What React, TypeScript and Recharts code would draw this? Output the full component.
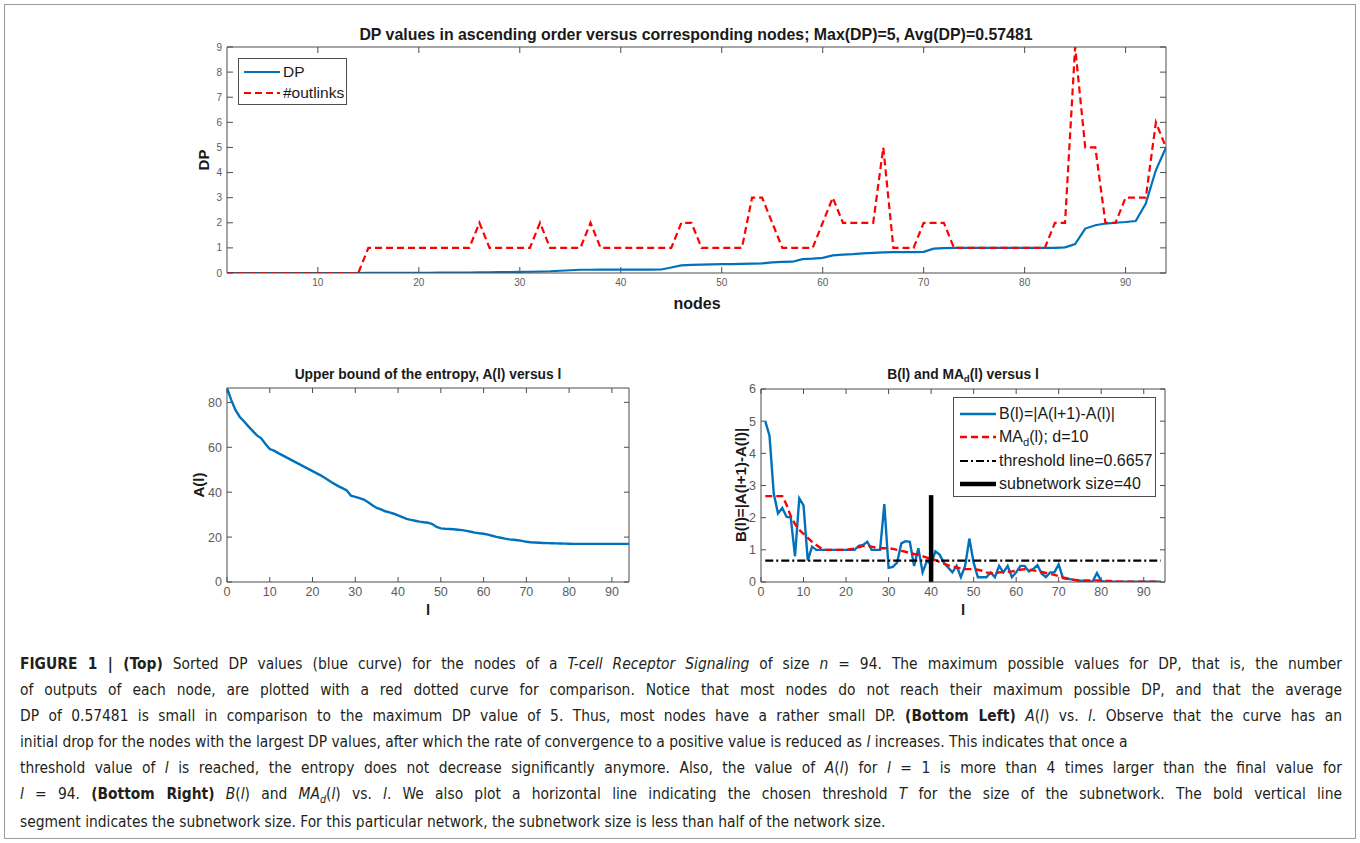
import React from 'react';
import { LineChart, Line, XAxis, YAxis, ReferenceLine } from 'recharts';

// ---------- Top panel: sorted DP values and outlink counts per node ----------
const NODES: number[] = Array.from({ length: 94 }, (_, i) => i + 1);

const DP_VALUES: number[] = [
  0, 0, 0, 0, 0, 0, 0, 0, 0, 0, 0, 0, 0, 0,
  0.003, 0.004, 0.005, 0.006, 0.007, 0.008, 0.01, 0.012, 0.014, 0.016,
  0.02, 0.024, 0.028, 0.032, 0.038, 0.044, 0.05, 0.06, 0.07, 0.09,
  0.11, 0.13, 0.13, 0.135, 0.135, 0.135, 0.135, 0.135, 0.135, 0.14,
  0.22, 0.3, 0.32, 0.33, 0.34, 0.35, 0.35, 0.36, 0.37, 0.38,
  0.42, 0.44, 0.45, 0.55, 0.57, 0.6, 0.7, 0.73, 0.75, 0.78,
  0.8, 0.82, 0.83, 0.83, 0.83, 0.84, 0.97, 0.99,
  1.0, 1.0, 1.0, 1.0, 1.0, 1.0, 1.0, 1.0, 1.0, 1.0, 1.0,
  1.02, 1.15, 1.77, 1.9, 1.97, 2.0, 2.03, 2.07, 2.77, 4.1, 5.0,
];

const OUTLINKS: number[] = [
  0, 0, 0, 0, 0, 0, 0, 0, 0, 0, 0, 0, 0, 0,
  1, 1, 1, 1, 1, 1, 1, 1, 1, 1, 1,
  2, 1, 1, 1, 1, 1, 2, 1, 1, 1, 1, 2,
  1, 1, 1, 1, 1, 1, 1, 1,
  2, 2, 1, 1, 1, 1, 1, 3, 3, 2,
  1, 1, 1, 1, 2, 3, 2, 2, 2, 2, 5,
  1, 1, 1, 2, 2, 2,
  1, 1, 1, 1, 1, 1, 1, 1, 1, 1,
  2, 2, 9, 5, 5, 2, 2, 3, 3, 3, 6, 5,
];

const TOP_X_TICKS = [10, 20, 30, 40, 50, 60, 70, 80, 90];
const TOP_Y_TICKS = [0, 1, 2, 3, 4, 5, 6, 7, 8, 9];

// ---------- Bottom left: upper bound of the entropy A(l), l = 0..94 ----------
const L_FULL: number[] = Array.from({ length: 95 }, (_, i) => i);

const A_VALUES: number[] = [
  86.4, 81.0, 76.5, 73.5, 71.5, 69.3, 67.3, 65.3, 64.0, 61.5,
  59.2, 58.5, 57.4, 56.4, 55.4, 54.4, 53.4, 52.4, 51.4, 50.4,
  49.4, 48.4, 47.4, 46.2, 45.0, 43.8, 42.7, 41.8, 40.8, 38.4,
  37.9, 37.4, 36.7, 35.5, 34.2, 33.0, 32.3, 31.5, 31.0, 30.4,
  29.7, 28.9, 28.1, 27.7, 27.3, 26.9, 26.6, 26.4, 25.8, 24.5,
  23.9, 23.7, 23.6, 23.5, 23.3, 23.1, 22.8, 22.4, 22.0, 21.7,
  21.5, 21.1, 20.6, 20.1, 19.7, 19.3, 19.0, 18.8, 18.6, 18.3,
  17.9, 17.7, 17.6, 17.5, 17.4, 17.3, 17.25, 17.2, 17.15, 17.1,
  17.05, 17.0, 17.0, 17.0, 17.0, 17.0, 17.0, 17.0, 17.0, 17.0,
  17.0, 17.0, 17.0, 17.0, 17.0,
];

const BL_X_TICKS = [0, 10, 20, 30, 40, 50, 60, 70, 80, 90];
const BL_Y_TICKS = [0, 20, 40, 60, 80];

// ---------- Bottom right: B(l) and its moving average, l = 1..94 ----------
const L_VALUES: number[] = Array.from({ length: 94 }, (_, i) => i + 1);

const B_VALUES: number[] = [
  5.0, 4.55, 2.75, 2.13, 2.3, 2.03, 2.0, 0.8, 2.6, 2.38,
  0.67, 1.1, 1.0, 1.0, 1.0, 1.0, 1.0, 1.0, 1.0, 1.0,
  1.0, 1.0, 1.12, 1.15, 1.25, 1.0, 1.0, 1.0, 2.42, 0.44,
  0.47, 0.6, 1.2, 1.27, 1.25, 0.5, 1.05, 0.3, 0.65, 0.55,
  0.95, 0.85, 0.6, 0.45, 0.3, 0.5, 0.15, 0.5, 1.35, 0.6,
  0.15, 0.15, 0.15, 0.3, 0.15, 0.5, 0.3, 0.5, 0.15, 0.3,
  0.5, 0.5, 0.33, 0.4, 0.52, 0.26, 0.15, 0.3, 0.3, 0.55,
  0.12, 0.1, 0.08, 0.05, 0.04, 0.03, 0.02, 0.02, 0.28, 0.03,
  0.01, 0.01, 0.01, 0.01, 0.01, 0.01, 0.01, 0.01, 0.01, 0.01,
  0.01, 0.01, 0.01, 0.01,
];

const MA_VALUES: number[] = [
  2.67, 2.67, 2.67, 2.67, 2.67, 2.4, 2.05, 1.8, 1.62, 1.5,
  1.37, 1.25, 1.15, 1.06, 1.0, 1.0, 1.0, 1.0, 1.0, 1.0,
  1.02, 1.04, 1.08, 1.12, 1.13, 1.1, 1.07, 1.05, 1.05, 1.05,
  1.03, 1.0, 0.97, 0.94, 0.9, 0.87, 0.84, 0.8, 0.76, 0.72,
  0.68, 0.62, 0.57, 0.52, 0.48, 0.45, 0.42, 0.4, 0.4, 0.4,
  0.38, 0.35, 0.3, 0.27, 0.27, 0.3, 0.31, 0.32, 0.33, 0.35,
  0.38, 0.4, 0.39, 0.36, 0.34, 0.31, 0.28, 0.25, 0.22, 0.18,
  0.14, 0.11, 0.08, 0.06, 0.05, 0.05, 0.05, 0.05, 0.05, 0.04,
  0.03, 0.03, 0.02, 0.01, 0.01, 0.01, 0.01, 0.01, 0.01, 0.01,
  0.01, 0.01, 0.01, 0.01,
];

const THRESHOLD = 0.6657;
const SUBNETWORK_SIZE = 40;
const SUBNETWORK_BAR_TOP = 2.7;

const BR_X_TICKS = [0, 10, 20, 30, 40, 50, 60, 70, 80, 90];
const BR_Y_TICKS = [0, 1, 2, 3, 4, 5, 6];

// ---------- Styling ----------
const BLUE = '#0072BD';
const RED = '#FF0000';
const AXIS = '#4d4d4d';
const TICK_TEXT = '#5c5c5c';
const FONT = '"Liberation Sans", Arial, Helvetica, sans-serif';
const CAPTION_FONT = '"Liberation Sans Narrow", "DejaVu Sans Condensed", "Liberation Sans", sans-serif';

const topData = NODES.map((n, i) => ({ x: n, dp: DP_VALUES[i], out: OUTLINKS[i] }));
const blData = L_FULL.map((l, i) => ({ x: l, a: A_VALUES[i] }));
const brData = L_VALUES.map((l, i) => ({ x: l, b: B_VALUES[i], ma: MA_VALUES[i] }));

const YW = 50; // left axis band
const XH = 30; // bottom axis band
const PAD = 10; // room above / right of the plot box

type Box = { left: number; top: number; right: number; bottom: number };

const TOP_BOX: Box = { left: 227, top: 47, right: 1166, bottom: 273 };
const BL_BOX: Box = { left: 227, top: 388, right: 629, bottom: 582 };
const BR_BOX: Box = { left: 761, top: 389, right: 1165, bottom: 582 };

function frameStyle(b: Box): React.CSSProperties {
  return {
    position: 'absolute',
    left: b.left - YW,
    top: b.top - PAD,
    width: b.right - b.left + YW + PAD,
    height: b.bottom - b.top + PAD + XH,
  };
}

function chartSize(b: Box) {
  return { width: b.right - b.left + YW + PAD, height: b.bottom - b.top + PAD + XH };
}

const MARGIN = { top: PAD, right: PAD, bottom: 0, left: 0 };

// Inward tick marks on all four sides of the axes box, placed by the chart scales.
function boxDecor(xTicks: number[], yTicks: number[], xMax: number, yMax: number, len: number) {
  const vTick = (p: any) => {
    const top = Math.min(p.y1, p.y2);
    const bottom = Math.max(p.y1, p.y2);
    return (
      <g>
        <line x1={p.x1} x2={p.x1} y1={bottom} y2={bottom - len} stroke={AXIS} strokeWidth={1} />
        <line x1={p.x1} x2={p.x1} y1={top} y2={top + len} stroke={AXIS} strokeWidth={1} />
      </g>
    );
  };
  const hTick = (p: any) => {
    const left = Math.min(p.x1, p.x2);
    const right = Math.max(p.x1, p.x2);
    return (
      <g>
        <line x1={left} x2={left + len} y1={p.y1} y2={p.y1} stroke={AXIS} strokeWidth={1} />
        <line x1={right} x2={right - len} y1={p.y1} y2={p.y1} stroke={AXIS} strokeWidth={1} />
      </g>
    );
  };
  return [
    <ReferenceLine key="edge-top" y={yMax} stroke={AXIS} strokeWidth={1} />,
    <ReferenceLine key="edge-right" x={xMax} stroke={AXIS} strokeWidth={1} />,
    ...xTicks.map((t) => <ReferenceLine key={`xt-${t}`} x={t} shape={vTick} />),
    ...yTicks.map((t) => <ReferenceLine key={`yt-${t}`} y={t} shape={hTick} />),
  ];
}

function Txt(props: {
  x: number; y: number; size: number; bold?: boolean; rotate?: boolean; children: React.ReactNode; color?: string;
}) {
  const { x, y, size, bold, rotate, children, color } = props;
  return (
    <div
      style={{
        position: 'absolute',
        left: x,
        top: y,
        transform: `translate(-50%, -50%)${rotate ? ' rotate(-90deg)' : ''}`,
        fontFamily: FONT,
        fontSize: size,
        fontWeight: bold ? 'bold' : 'normal',
        color: color || '#1a1a1a',
        whiteSpace: 'nowrap',
        lineHeight: 1,
      }}
    >
      {children}
    </div>
  );
}

function LegendSample(props: { dash?: string; width: number; color: string }) {
  return (
    <svg width={38} height={10} style={{ display: 'block', flex: 'none' }}>
      <line x1={1} y1={5} x2={37} y2={5} stroke={props.color} strokeWidth={props.width} strokeDasharray={props.dash} />
    </svg>
  );
}

function LegendRow(props: { dash?: string; width: number; color: string; size: number; children: React.ReactNode; height: number }) {
  return (
    <div style={{ display: 'flex', alignItems: 'center', height: props.height }}>
      <LegendSample dash={props.dash} width={props.width} color={props.color} />
      <span style={{ marginLeft: 2, fontFamily: FONT, fontSize: props.size, color: '#1a1a1a', whiteSpace: 'nowrap' }}>
        {props.children}
      </span>
    </div>
  );
}

const Sub = (p: { children: React.ReactNode }) => (
  <span style={{ fontSize: '0.7em', position: 'relative', top: '0.35em' }}>{p.children}</span>
);

const B = (p: { children: React.ReactNode }) => <b>{p.children}</b>;
const I = (p: { children: React.ReactNode }) => <i>{p.children}</i>;

// caption lines; `full` lines are set justified to the text block width
const CAPTION_LINES: { full: boolean; content: React.ReactNode }[] = [
  {
    full: true,
    content: (
      <>
        <B>FIGURE 1 | (Top)</B> Sorted DP values (blue curve) for the nodes of a <I>T-cell Receptor Signaling</I> of
        size <I>n</I> = 94. The maximum possible values for DP, that is, the number
      </>
    ),
  },
  {
    full: true,
    content: (
      <>
        of outputs of each node, are plotted with a red dotted curve for comparison. Notice that most nodes do not
        reach their maximum possible DP, and that the average
      </>
    ),
  },
  {
    full: true,
    content: (
      <>
        DP of 0.57481 is small in comparison to the maximum DP value of 5. Thus, most nodes have a rather small DP.{' '}
        <B>(Bottom Left)</B> <I>A</I>(<I>l</I>) vs. <I>l</I>. Observe that the curve has an
      </>
    ),
  },
  {
    full: false,
    content: (
      <>
        initial drop for the nodes with the largest DP values, after which the rate of convergence to a positive value
        is reduced as <I>l</I> increases. This indicates that once a
      </>
    ),
  },
  {
    full: true,
    content: (
      <>
        threshold value of <I>l</I> is reached, the entropy does not decrease significantly anymore. Also, the value of{' '}
        <I>A</I>(<I>l</I>) for <I>l</I> = 1 is more than 4 times larger than the final value for
      </>
    ),
  },
  {
    full: true,
    content: (
      <>
        <I>l</I> = 94. <B>(Bottom Right)</B> <I>B</I>(<I>l</I>) and <I>MA</I>
        <Sub>
          <I>d</I>
        </Sub>
        (<I>l</I>) vs. <I>l</I>. We also plot a horizontal line indicating the chosen threshold <I>T</I> for the size of
        the subnetwork. The bold vertical line
      </>
    ),
  },
  {
    full: false,
    content: (
      <>
        segment indicates the subnetwork size. For this particular network, the subnetwork size is less than half of
        the network size.
      </>
    ),
  },
];

export default function App() {
  const tickTop = { fill: TICK_TEXT, fontSize: 10, fontFamily: FONT };
  const tickBottom = { fill: TICK_TEXT, fontSize: 12.5, fontFamily: FONT };

  return (
    <div
      style={{
        position: 'absolute',
        left: 0,
        top: 0,
        width: 1360,
        height: 843,
        background: '#ffffff',
        overflow: 'hidden',
      }}
    >
      {/* outer figure frame */}
      <div
        style={{
          position: 'absolute',
          left: 4,
          top: 4,
          width: 1350,
          height: 833,
          border: '1px solid #9a9a9a',
        }}
      />

      {/* ---------------- Top panel ---------------- */}
      <Txt x={696} y={35} size={15.9} bold>
        DP values in ascending order versus corresponding nodes; Max(DP)=5, Avg(DP)=0.57481
      </Txt>
      <div style={frameStyle(TOP_BOX)}>
        <LineChart {...chartSize(TOP_BOX)} data={topData} margin={MARGIN}>
          <XAxis
            dataKey="x"
            type="number"
            domain={[1, 94]}
            ticks={TOP_X_TICKS}
            interval={0}
            allowDataOverflow
            height={XH}
            stroke={AXIS}
            tickLine={false}
            tickSize={0}
            tickMargin={6}
            tick={tickTop}
          />
          <YAxis
            type="number"
            domain={[0, 9]}
            ticks={TOP_Y_TICKS}
            interval={0}
            allowDataOverflow
            width={YW}
            stroke={AXIS}
            tickLine={false}
            tickSize={0}
            tickMargin={5}
            tick={tickTop}
          />
          {boxDecor(TOP_X_TICKS, TOP_Y_TICKS, 94, 9, 6)}
          <Line type="linear" dataKey="dp" stroke={BLUE} strokeWidth={2.2} dot={false} isAnimationActive={false} />
          <Line
            type="linear"
            dataKey="out"
            stroke={RED}
            strokeWidth={2.2}
            strokeDasharray="7 4"
            dot={false}
            isAnimationActive={false}
          />
        </LineChart>
      </div>
      <Txt x={203} y={160} size={15} bold rotate>
        DP
      </Txt>
      <Txt x={697} y={304} size={16} bold>
        nodes
      </Txt>
      <div
        style={{
          position: 'absolute',
          left: 238,
          top: 58,
          width: 109,
          height: 47,
          border: '1px solid #4d4d4d',
          background: '#fff',
          boxSizing: 'border-box',
          padding: '2px 0 0 4px',
        }}
      >
        <LegendRow color={BLUE} width={2.2} size={15.5} height={21}>
          DP
        </LegendRow>
        <LegendRow color={RED} width={2.2} dash="7 4" size={15.5} height={21}>
          #outlinks
        </LegendRow>
      </div>

      {/* ---------------- Bottom left panel ---------------- */}
      <Txt x={428} y={375} size={13.8} bold>
        Upper bound of the entropy, A(l) versus l
      </Txt>
      <div style={frameStyle(BL_BOX)}>
        <LineChart {...chartSize(BL_BOX)} data={blData} margin={MARGIN}>
          <XAxis
            dataKey="x"
            type="number"
            domain={[0, 94]}
            ticks={BL_X_TICKS}
            interval={0}
            allowDataOverflow
            height={XH}
            stroke={AXIS}
            tickLine={false}
            tickSize={0}
            tickMargin={5}
            tick={tickBottom}
          />
          <YAxis
            type="number"
            domain={[0, 86.4]}
            ticks={BL_Y_TICKS}
            interval={0}
            allowDataOverflow
            width={YW}
            stroke={AXIS}
            tickLine={false}
            tickSize={0}
            tickMargin={5}
            tick={tickBottom}
          />
          {boxDecor(BL_X_TICKS, BL_Y_TICKS, 94, 86.4, 5)}
          <Line type="linear" dataKey="a" stroke={BLUE} strokeWidth={2.4} dot={false} isAnimationActive={false} />
        </LineChart>
      </div>
      <Txt x={198} y={485} size={15} bold rotate>
        A(l)
      </Txt>
      <Txt x={428} y={609} size={15} bold>
        l
      </Txt>

      {/* ---------------- Bottom right panel ---------------- */}
      <Txt x={963} y={375} size={13.8} bold>
        B(l) and MA<Sub>d</Sub>(l) versus l
      </Txt>
      <div style={frameStyle(BR_BOX)}>
        <LineChart {...chartSize(BR_BOX)} data={brData} margin={MARGIN}>
          <XAxis
            dataKey="x"
            type="number"
            domain={[0, 95]}
            ticks={BR_X_TICKS}
            interval={0}
            allowDataOverflow
            height={XH}
            stroke={AXIS}
            tickLine={false}
            tickSize={0}
            tickMargin={5}
            tick={tickBottom}
          />
          <YAxis
            type="number"
            domain={[0, 6]}
            ticks={BR_Y_TICKS}
            interval={0}
            allowDataOverflow
            width={YW}
            stroke={AXIS}
            tickLine={false}
            tickSize={0}
            tickMargin={5}
            tick={tickBottom}
          />
          {boxDecor(BR_X_TICKS, BR_Y_TICKS, 95, 6, 5)}
          <Line type="linear" dataKey="b" stroke={BLUE} strokeWidth={2.4} dot={false} isAnimationActive={false} />
          <Line
            type="linear"
            dataKey="ma"
            stroke={RED}
            strokeWidth={2.4}
            strokeDasharray="7 4"
            dot={false}
            isAnimationActive={false}
          />
          <ReferenceLine
            segment={[
              { x: 1, y: THRESHOLD },
              { x: 94, y: THRESHOLD },
            ]}
            stroke="#000"
            strokeWidth={2.2}
            strokeDasharray="8 3 2 3"
            ifOverflow="visible"
          />
          <ReferenceLine
            segment={[
              { x: SUBNETWORK_SIZE, y: 0 },
              { x: SUBNETWORK_SIZE, y: SUBNETWORK_BAR_TOP },
            ]}
            stroke="#000"
            strokeWidth={4.5}
            ifOverflow="visible"
          />
        </LineChart>
      </div>
      <Txt x={740} y={485} size={15} bold rotate>
        B(l)=|A(l+1)-A(l)|
      </Txt>
      <Txt x={963} y={609} size={15} bold>
        l
      </Txt>
      <div
        style={{
          position: 'absolute',
          left: 953,
          top: 397,
          width: 203,
          height: 100,
          border: '1px solid #4d4d4d',
          background: '#fff',
          boxSizing: 'border-box',
          padding: '4px 0 0 5px',
        }}
      >
        <LegendRow color={BLUE} width={2.4} size={16} height={23.5}>
          B(l)=|A(l+1)-A(l)|
        </LegendRow>
        <LegendRow color={RED} width={2.4} dash="7 4" size={16} height={23.5}>
          MA<Sub>d</Sub>(l); d=10
        </LegendRow>
        <LegendRow color="#000" width={2.2} dash="8 3 2 3" size={16} height={23.5}>
          threshold line=0.6657
        </LegendRow>
        <LegendRow color="#000" width={4.5} size={16} height={23.5}>
          subnetwork size=40
        </LegendRow>
      </div>

      {/* ---------------- Caption ---------------- */}
      <div
        style={{
          position: 'absolute',
          left: 20,
          top: 651,
          width: 1322,
          fontFamily: CAPTION_FONT,
          fontSize: 15.4,
          lineHeight: '26px',
          color: '#231f20',
        }}
      >
        {CAPTION_LINES.map((line, i) => (
          <div
            key={i}
            style={{
              whiteSpace: 'nowrap',
              textAlign: line.full ? 'justify' : 'left',
              textAlignLast: line.full ? 'justify' : 'left',
            }}
          >
            {line.content}
          </div>
        ))}
      </div>
    </div>
  );
}
